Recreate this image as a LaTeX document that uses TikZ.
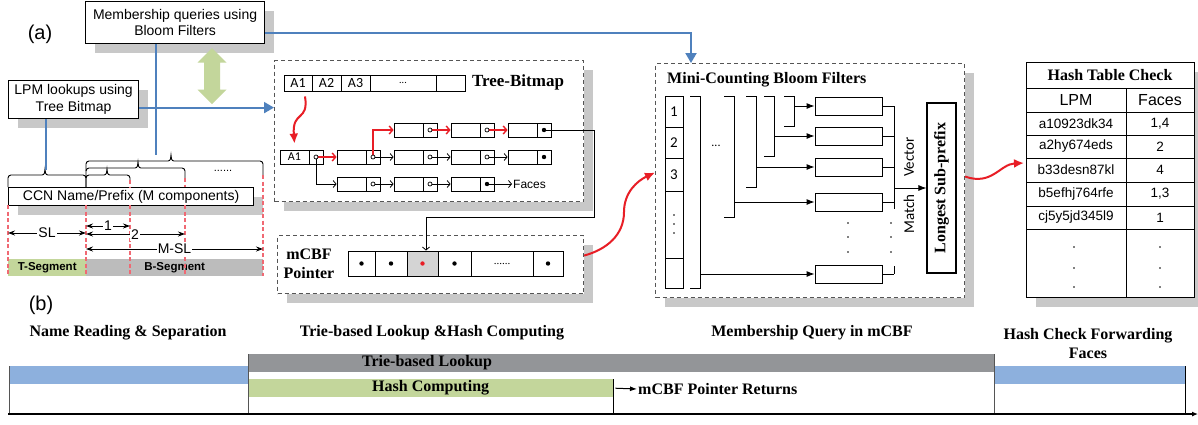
\documentclass[tikz,border=0pt]{standalone}
\usepackage{fontspec}
\setmainfont{Liberation Serif}
\newfontfamily\arf{Liberation Sans}
\newfontfamily\calf{Carlito}
\usetikzlibrary{arrows.meta,shadows,calc}
\definecolor{bluel}{RGB}{79,129,189}
\definecolor{bluebar}{RGB}{141,176,221}
\definecolor{lgreen}{RGB}{195,214,155}
\definecolor{shgrey}{RGB}{200,200,200}
\definecolor{bseg}{RGB}{188,188,188}
\definecolor{tgrey}{RGB}{147,149,152}
\definecolor{myred}{RGB}{232,30,38}
\definecolor{dashred}{RGB}{240,105,115}
\definecolor{dgrey}{RGB}{85,85,85}
\definecolor{cellgrey}{RGB}{212,212,212}
\tikzset{
 sa/.style={font=\arf\fontsize{14}{16.5}\selectfont},
 sah/.style={font=\arf\fontsize{16}{18}\selectfont},
 sat/.style={font=\arf\fontsize{13.5}{16}\selectfont},
 sab/.style={font=\arf\bfseries\fontsize{11.5}{13}\selectfont},
 sbf/.style={font=\bfseries\fontsize{16}{19}\selectfont},
 ca/.style={font=\calf\fontsize{14}{16}\selectfont},
 cab/.style={font=\calf\fontsize{15}{17}\selectfont},
 shad/.style={general shadow={fill=shgrey, shadow xshift=9pt, shadow yshift=-9pt}},
 sbox/.style={draw, line width=1.2pt, fill=white, inner sep=0pt, anchor=north west, shad},
 dbox/.style={draw=dgrey, dash pattern=on 4pt off 3pt, line width=1.1pt, fill=white, inner sep=0pt, anchor=north west, shad},
 barrow/.style={draw=bluel, line width=2pt, -{Triangle[length=10pt,width=11pt]}},
 bline/.style={draw=bluel, line width=2pt},
 rarrow/.style={draw=myred, line width=2pt, -{Latex[length=10pt,width=9pt]}},
 dimarr/.style={line width=0.9pt, {Stealth[length=7pt,width=5pt]}-{Stealth[length=7pt,width=5pt]}},
 rdash/.style={draw=dashred, line width=1.1pt, dash pattern=on 4pt off 2.5pt},
 cw/.style={draw, line width=0.8pt, minimum width=29pt, minimum height=14pt, inner sep=0pt, font=\calf\fontsize{12}{14}\selectfont},
 cp/.style={draw, line width=0.8pt, minimum width=14pt, minimum height=14pt, inner sep=0pt},
 tarr/.style={line width=0.8pt, -{Straight Barb[length=3pt,width=7pt]}},
 trarr/.style={draw=myred, line width=1.4pt, -{Straight Barb[length=3.5pt,width=8pt]}},
 cell/.style={draw, line width=0.9pt, inner sep=0pt},
 brk/.style={line width=0.9pt},
 barr/.style={line width=0.9pt, -{Latex[length=8pt,width=6pt]}},
 lbl/.style={inner sep=1pt},
 bar/.style={inner sep=0pt, anchor=north west},
}
\newcommand\tnd[4]{\node[cw] (#1w) at ({#2+14.5},#3) {#4}; \node[cp] (#1p) at ({#2+36},#3) {};}
\begin{document}
\begin{tikzpicture}[x=1pt,y=-1pt]
\useasboundingbox[fill=white] (0,0) rectangle (1198,424);

% ---------- part (a) labels and top boxes ----------
\node[font=\arf\fontsize{20}{22}\selectfont, lbl] (la) at (40,34) {(a)};
\node[sbox, sa, minimum width=179pt, minimum height=42pt, align=center] (mem) at (85,1) {Membership queries using\\Bloom Filters};
\node[sbox, sa, minimum width=130pt, minimum height=38pt, align=center] (lpm) at (8,80) {LPM lookups using\\Tree Bitmap};

% green double arrow
\fill[lgreen] (212,48) -- (226.5,62.5) -- (220,62.5) -- (220,89.5) -- (226.5,89.5) -- (212,104) -- (197.5,89.5) -- (204,89.5) -- (204,62.5) -- (197.5,62.5) -- cycle;

% ---------- segments ----------
\node[bar, fill=lgreen, minimum width=78pt, minimum height=17pt, sab] (tseg) at (8,259) {T-Segment};
\node[bar, fill=bseg, minimum width=177pt, minimum height=17pt, sab] (bseg) at (86,259) {B-Segment};

% braces
\draw[brk] (8,187) -- (8,178) to[out=90,in=180] (11,175) -- (42,175) to[out=0,in=-90] (45,169) to[out=-90,in=180] (48,175) -- (83,175) to[out=0,in=90] (86,178) -- (86,187);
\draw[brk] (86,187) -- (86,164) to[out=90,in=180] (89,161) -- (168,161) to[out=0,in=-90] (171,155) to[out=-90,in=180] (174,161) -- (260,161) to[out=0,in=90] (263,164) -- (263,175);
\draw[brk] (86,171) to[out=90,in=180] (89,168) -- (135,168) to[out=0,in=-90] (138,162) to[out=-90,in=180] (141,168) -- (182,168) to[out=0,in=90] (185,171) -- (185,178);
\draw[brk] (86,178) to[out=90,in=180] (89,175) -- (104,175) to[out=0,in=-90] (107,169) to[out=-90,in=180] (110,175) -- (127,175) to[out=0,in=90] (130,178) -- (130,180);
\node[font=\arf\fontsize{11}{13}\selectfont, lbl] (dots1) at (223,171) {......};

% CCN name box
\node[sbox, sa, minimum width=245pt, minimum height=18pt] (ccn) at (8,187) {CCN Name/Prefix (M components)};

% red dashed guide lines
\draw[rdash] (8,205) -- (8,276);
\draw[rdash] (86,205) -- (86,276);
\draw[rdash] (130,180) -- (130,187); \draw[rdash] (130,205) -- (130,276);
\draw[rdash] (185,178) -- (185,187); \draw[rdash] (185,205) -- (185,276);
\draw[rdash] (263,175) -- (263,276);

% dimension arrows
\coordinate (d0) at (8,233); \coordinate (d1) at (86,233);
\coordinate (e0) at (86,226); \coordinate (e1) at (130,226);
\coordinate (f0) at (86,234); \coordinate (f1) at (185,234);
\coordinate (g0) at (86,249); \coordinate (g1) at (263,249);
\draw[dimarr] (d0) -- node[sa, fill=white, lbl] (lsl) {SL} (d1);
\draw[dimarr] (e0) -- node[sa, fill=white, lbl] (l1) {1} (e1);
\draw[dimarr] (f0) -- (f1);
\node[sa, fill=white, lbl] (l2) at (135,235) {2};
\draw[dimarr] (g0) -- node[sa, fill=white, lbl] (lmsl) {M-SL} (g1);

% ---------- Tree-Bitmap box ----------
\node[dbox, minimum width=309pt, minimum height=141pt] (tree) at (274,60) {};
\node[cell, ca, minimum width=28pt, minimum height=16pt] (a1) at (298,83) {A1};
\node[cell, ca, minimum width=29pt, minimum height=16pt] (a2) at (326.5,83) {A2};
\node[cell, ca, minimum width=29pt, minimum height=16pt] (a3) at (355.5,83) {A3};
\node[cell, font=\calf\fontsize{10}{12}\selectfont, minimum width=66pt, minimum height=16pt] (a4) at (403,83) {...};
\node[cell, minimum width=29pt, minimum height=16pt] (a5) at (450.5,83) {};
\node[font=\bfseries\fontsize{17}{19}\selectfont, lbl] (tbl) at (518,82) {Tree-Bitmap};

\tnd{n1a}{394}{130}{} \tnd{n1b}{451}{130}{} \tnd{n1c}{508}{130}{}
\tnd{n2a}{280}{157}{A1} \tnd{n2b}{337}{157}{} \tnd{n2c}{394}{157}{} \tnd{n2d}{451}{157}{} \tnd{n2e}{508}{157}{}
\tnd{n3a}{337}{184}{} \tnd{n3b}{394}{184}{} \tnd{n3c}{451}{184}{}
\node[font=\arf\fontsize{12}{14}\selectfont, anchor=west, inner sep=1pt] (faces) at (512,184) {Faces};

\draw[rarrow] ([xshift=7pt,yshift=-5pt]a1.south) .. controls (309,122) and (292,110) .. ([yshift=6pt]n2aw.north);
\draw[trarr] (n2ap.center) -- (n2bw.west);
\draw[tarr] (n2ap.center) |- (n3aw.west);
\draw[tarr] (n2bp.center) -- (n2cw.west);
\draw[trarr] (n2bp.center) |- (n1aw.west);
\draw[trarr] (n1ap.center) -- (n1bw.west);
\draw[trarr] (n1bp.center) -- (n1cw.west);
\draw[tarr] (n2cp.center) -- (n2dw.west);
\draw[tarr] (n2dp.center) -- (n2ew.west);
\draw[tarr] (n3ap.center) -- (n3bw.west);
\draw[tarr] (n3bp.center) -- (n3cw.west);
\draw[tarr] (n3cp.center) -- (faces.west);
\foreach \n in {n2a,n2b,n1a,n1b,n2c,n2d,n3a,n3b} {\draw[fill=white, line width=0.7pt] (\n p.center) circle (2pt);}
\foreach \n in {n1c,n2e,n3c} {\fill (\n p.center) circle (2.2pt);}

% ---------- mCBF pointer ----------
\node[dbox, minimum width=306pt, minimum height=58pt] (mcbf) at (277,235) {};
\node[sbf, align=center, lbl] (mcbft) at (309,263.5) {mCBF\\Pointer};
\node[cell, minimum width=27pt, minimum height=25pt] (m1) at (361.5,263.5) {};
\node[cell, minimum width=32pt, minimum height=25pt] (m2) at (391,263.5) {};
\node[cell, fill=cellgrey, minimum width=31pt, minimum height=25pt] (m3) at (422.5,263.5) {};
\node[cell, minimum width=33pt, minimum height=25pt] (m4) at (454.5,263.5) {};
\node[cell, font=\fontsize{11}{12}\selectfont, minimum width=62pt, minimum height=25pt] (m5) at (502,263.5) {......};
\node[cell, minimum width=30pt, minimum height=25pt] (m6) at (548,263.5) {};
\foreach \n in {m1,m2,m4,m6} {\fill (\n.center) circle (2.2pt);}
\fill[myred] (m3.center) circle (2.2pt);
\coordinate (route) at (594,217);
\draw[tarr] (n1cp.center) -| (route) -| ([xshift=3.5pt]m3.north);

% ---------- blue connectors ----------
\coordinate (minin) at (691,63);
\draw[barrow] ([yshift=-10pt]mem.east) -| (minin);
\draw[bline] ([xshift=-19.5pt]mem.south) -- ++(0,111);
\draw[barrow] ([yshift=-8pt]lpm.east) -- ([yshift=-8pt]lpm.east -| tree.west);
\draw[bline] ([xshift=-28pt]lpm.south) -- ++(0,51);

% ---------- Mini-counting bloom filters ----------
\node[dbox, minimum width=309pt, minimum height=234pt] (mini) at (655,63) {};
\node[sbf, anchor=west, lbl] (minit) at (666,80) {Mini-Counting Bloom Filters};
\node[cell, cab, minimum width=18pt, minimum height=31pt] (c1) at (674,111.5) {1};
\node[cell, cab, minimum width=18pt, minimum height=31pt] (c2) at (674,142.5) {2};
\node[cell, cab, minimum width=18pt, minimum height=33pt] (c3) at (674,174.5) {3};
\node[cell, minimum width=18pt, minimum height=67pt] (c4) at (674,224.5) {};
\node[cell, minimum width=18pt, minimum height=30pt] (c5) at (674,273) {};
\foreach \yy in {215,224,233} {\fill (674,\yy) circle (0.8pt);}
\node[font=\calf\fontsize{12}{14}\selectfont, lbl] (mdots) at (716,146) {...};

\node[cell, minimum width=67pt, minimum height=18pt] (f1) at (848.5,106) {};
\node[cell, minimum width=67pt, minimum height=18pt] (f2) at (848.5,136) {};
\node[cell, minimum width=67pt, minimum height=18pt] (f3) at (848.5,167) {};
\node[cell, minimum width=67pt, minimum height=18pt] (f4) at (848.5,202) {};
\node[cell, minimum width=67pt, minimum height=18pt] (f5) at (848.5,274) {};
\foreach \yy in {223,237,252} {\fill (848,\yy) circle (0.9pt); \fill (891,\yy) circle (0.9pt);}

\draw[brk] (690,96) -| (700,288) -- (690,288);
\draw[brk] (724,96) -| (734,217) -- (724,217);
\draw[brk] (746,96) -| (756,187) -- (746,187);
\draw[brk] (764,96) -| (774,156) -- (764,156);
\draw[brk] (784,96) -| (794,126) -- (784,126);
\coordinate (b1) at (700,274); \coordinate (b2) at (734,202); \coordinate (b3) at (756,167);
\coordinate (b4) at (774,136); \coordinate (b5) at (794,106);
\draw[barr] (b1) -- (f5.west);
\draw[barr] (b2) -- (f4.west);
\draw[barr] (b3) -- (f3.west);
\draw[barr] (b4) -- (f2.west);
\draw[barr] (b5) -- (f1.west);

\foreach \n in {f1,f2,f3,f4,f5} {\draw[brk] (\n.east) -- ++(12,0);}
\draw[brk] (894,106) -- (894,209);
\draw[brk] (894,266) -- (894,274);

\node[draw, line width=1.1pt, rotate=90, minimum width=170pt, minimum height=29pt, inner sep=0pt, sbf] (lsp) at (941.5,188) {Longest Sub-prefix};
\coordinate (mv) at (894,188);
\draw[barr] (mv) -- (mv -| lsp.north);
\node[cab, rotate=90, lbl] (vec) at (909,157) {Vector};
\node[cab, rotate=90, lbl] (mat) at (909,214) {Match};

% red curve mCBF -> mini
\draw[rarrow] ([yshift=9pt]mcbf.east) to[out=15,in=-90] (624,212) to[out=90,in=205] ([yshift=8pt]mini.west);

% ---------- hash table ----------
\node[sbox, minimum width=168pt, minimum height=235pt] (tab) at (1026,62) {};
\foreach \yy in {88,112,135,158,182,206,229} {\draw[line width=0.9pt] (1026,\yy) -- (1194,\yy);}
\draw[line width=0.9pt] (1126,88) -- (1126,297);
\node[sbf, lbl] (tabh) at (1110,75) {Hash Table Check};
\node[sah, lbl] (th1) at (1076,100) {LPM};
\node[sah, lbl] (th2) at (1160,100) {Faces};
\node[sat, lbl] (r1l) at (1076,123.5) {a10923dk34};   \node[sat, lbl] (r1r) at (1160,123.5) {1,4};
\node[sat, lbl] (r2l) at (1076,146.5) {a2hy674eds};   \node[sat, lbl] (r2r) at (1160,146.5) {2};
\node[sat, lbl] (r3l) at (1076,170) {b33desn87kl};    \node[sat, lbl] (r3r) at (1160,170) {4};
\node[sat, lbl] (r4l) at (1076,194) {b5efhj764rfe};   \node[sat, lbl] (r4r) at (1160,194) {1,3};
\node[sat, lbl] (r5l) at (1076,217.5) {cj5y5jd345l9}; \node[sat, lbl] (r5r) at (1160,217.5) {1};
\foreach \yy in {247,268,287} {\fill (1074,\yy) circle (0.9pt); \fill (1160,\yy) circle (0.9pt);}
\coordinate (tabin) at (1024,163);
\draw[rarrow] ([yshift=4pt]mini.east) .. controls (992,186) and (1000,164) .. (tabin);

% ---------- part (b) timeline ----------
\node[font=\arf\fontsize{20}{22}\selectfont, lbl] (lb) at (41,305) {(b)};
\node[sbf, lbl] (h1) at (128,333) {Name Reading \& Separation};
\node[sbf, lbl] (h2) at (432,333) {Trie-based Lookup \&Hash Computing};
\node[sbf, lbl] (h3) at (812,333) {Membership Query in mCBF};
\node[align=center, lbl, font=\bfseries\fontsize{16}{19.5}\selectfont] (h4) at (1088,343.5) {Hash Check Forwarding\\Faces};

\node[bar, fill=bluebar, minimum width=239pt, minimum height=18pt] (bb1) at (9,366) {};
\node[bar, fill=tgrey, minimum width=746pt, minimum height=18pt] (gb) at (248,354) {};
\node[sbf, lbl] (gbt) at (427,363) {Trie-based Lookup};
\node[bar, fill=lgreen, minimum width=365pt, minimum height=18pt, sbf] (hc) at (248,379) {Hash Computing};
\node[bar, fill=bluebar, minimum width=191pt, minimum height=18pt] (bb2) at (994,366) {};

\draw[line width=1pt, dgrey] (9,366) -- (9,414);
\draw[line width=1pt, dgrey] (248,354) -- (248,414);
\draw[line width=1pt] (613,379) -- (613,414);
\draw[line width=1pt, dgrey] (994,354) -- (994,414);
\draw[line width=1pt] (1185,366) -- (1185,414);
\coordinate (t0) at (8,414); \coordinate (t1) at (1198,414);
\draw[line width=1.4pt, -{Latex[length=6pt,width=5pt]}] (t0) -- (t1);
\node[sbf, anchor=west, lbl] (mpr) at (637,389) {mCBF Pointer Returns};
\draw[line width=1pt, -{Latex[length=7pt,width=5pt]}] (hc.east) ++(2,0) coordinate (hcs) (hcs) -- (mpr.west);
\end{tikzpicture}
\end{document}
